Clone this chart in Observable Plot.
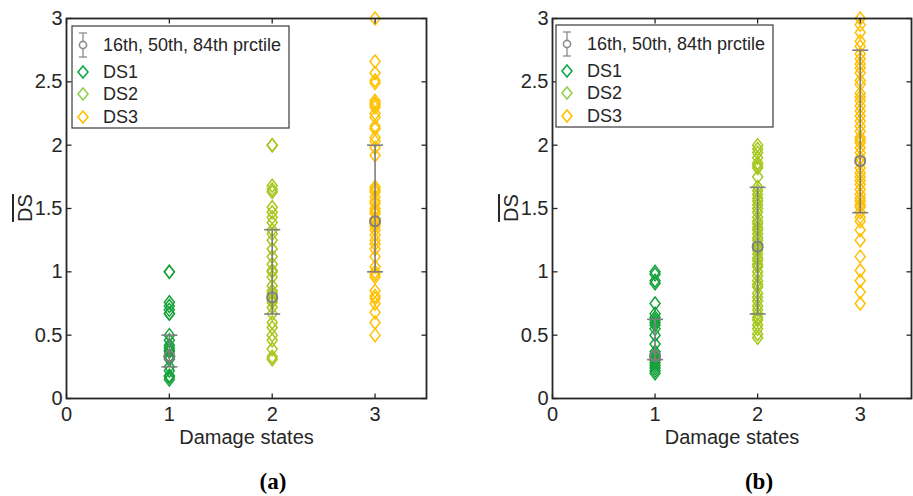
<!DOCTYPE html>
<html><head><meta charset="utf-8">
<script src="https://cdn.jsdelivr.net/npm/d3@7"></script>
<script src="https://cdn.jsdelivr.net/npm/@observablehq/plot@0.6"></script>
<style>
body{margin:0;background:#fff;}
#root{position:relative;width:913px;height:496px;overflow:hidden;font-family:"Liberation Sans",Arial,sans-serif;color:#262626;}
.panel{position:absolute;top:0;}
.ylab{position:absolute;font-size:20px;text-decoration:overline;transform:translate(-50%,-50%) rotate(-90deg);white-space:nowrap;line-height:1;}
.cap{position:absolute;font-family:"Liberation Serif","Times New Roman",serif;font-weight:bold;font-size:23px;line-height:24px;transform:translateX(-50%);color:#000;white-space:nowrap;}
.leg{position:absolute;}
</style></head><body><div id="root"></div>
<script>
// ---- data ----
const xTicks = [0, 1, 2, 3];
const yTicks = [0, 0.5, 1, 1.5, 2, 2.5, 3];
const seriesNames = ["DS1", "DS2", "DS3"];
const seriesX = [1, 2, 3];
const pointColors = ["#15a23a", "#a5c71b", "#ffc000"];
const legendColors = ["#0ea84a", "#92d050", "#ffc000"];
const statLabel = "16th, 50th, 84th prctile";
const xLabel = "Damage states";
const yLabel = "DS";
const panelLabels = ["(a)", "(b)"];

const aDS1 = [1.0, 1.0, 0.76, 0.73, 0.70, 0.67, 0.67, 0.5, 0.46, 0.42, 0.40, 0.38, 0.37, 0.33, 0.33, 0.31, 0.25, 0.22, 0.18, 0.17, 0.15];
const aDS2 = [2.0, 2.0, 1.68, 1.65, 1.63, 1.51, 1.47, 1.43, 1.39, 1.33, 1.30, 1.25, 1.18, 1.12, 1.06, 1.01, 1.0, 0.96, 0.89, 0.85, 0.83, 0.80, 0.78, 0.76, 0.72, 0.67, 0.60, 0.56, 0.50, 0.46, 0.39, 0.33, 0.31];
const aDS3 = [3.0, 2.66, 2.57, 2.51, 2.49, 2.35, 2.33, 2.32, 2.30, 2.25, 2.22, 2.15, 2.13, 2.06, 2.03, 1.98, 1.92, 1.67, 1.65, 1.63, 1.59, 1.56, 1.54, 1.50, 1.48, 1.46, 1.42, 1.40, 1.38, 1.36, 1.33, 1.29, 1.25, 1.22, 1.18, 1.12, 1.04, 1.0, 0.98, 0.96, 0.85, 0.81, 0.79, 0.75, 0.68, 0.60, 0.50];
const aP16 = [0.25, 0.667, 1.0];
const aP50 = [0.333, 0.8, 1.4];
const aP84 = [0.5, 1.333, 2.0];

const bDS1 = [1.0, 0.98, 0.93, 0.91, 0.75, 0.67, 0.64, 0.62, 0.60, 0.58, 0.55, 0.50, 0.43, 0.37, 0.35, 0.33, 0.32, 0.30, 0.28, 0.26, 0.24, 0.22, 0.20];
const bDS2 = [2.0, 1.97, 1.94, 1.90, 1.86, 1.84, 1.82, 1.75, 1.67, 1.64, 1.61, 1.58, 1.56, 1.53, 1.50, 1.47, 1.43, 1.40, 1.38, 1.35, 1.33, 1.30, 1.27, 1.25, 1.22, 1.19, 1.17, 1.14, 1.11, 1.09, 1.06, 1.04, 1.0, 0.97, 0.93, 0.90, 0.88, 0.83, 0.80, 0.77, 0.73, 0.70, 0.67, 0.64, 0.62, 0.58, 0.55, 0.51, 0.48];
const bDS3 = [3.0, 2.95, 2.89, 2.82, 2.78, 2.72, 2.68, 2.64, 2.61, 2.57, 2.51, 2.48, 2.41, 2.38, 2.35, 2.31, 2.27, 2.23, 2.19, 2.15, 2.11, 2.06, 2.04, 2.02, 1.98, 1.94, 1.90, 1.86, 1.82, 1.78, 1.75, 1.72, 1.69, 1.65, 1.61, 1.58, 1.56, 1.53, 1.51, 1.47, 1.43, 1.40, 1.33, 1.25, 1.12, 1.01, 0.93, 0.84, 0.75];
const bP16 = [0.307, 0.667, 1.467];
const bP50 = [0.333, 1.2, 1.875];
const bP84 = [0.625, 1.667, 2.75];

// ---- symbols ----
const diamond = {draw(c){c.moveTo(0,-6.5);c.lineTo(5,0);c.lineTo(0,6.5);c.lineTo(-5,0);c.closePath();}};
const capSym = {draw(c){c.moveTo(-8,0);c.lineTo(8,0);}};
const tickL = {draw(c){c.moveTo(0,0);c.lineTo(5,0);}};
const tickR = {draw(c){c.moveTo(0,0);c.lineTo(-5,0);}};
const tickB = {draw(c){c.moveTo(0,0);c.lineTo(0,-5);}};
const tickT = {draw(c){c.moveTo(0,0);c.lineTo(0,5);}};

const GRAY = "#7f7f7f", INK = "#262626";
const FONT = '"Liberation Sans", Arial, sans-serif';
const fmt = d => String(d);

function makePanel(series, p16, p50, p84, o){
  const points = [];
  series.forEach((vals, i) => vals.forEach(v => points.push({x: seriesX[i], y: v, s: seriesNames[i]})));
  const stats = seriesX.map((x, i) => ({x, p16: p16[i], p50: p50[i], p84: p84[i]}));
  return Plot.plot({
    width: o.width, height: 460,
    marginLeft: o.ml, marginRight: o.mr, marginTop: 18, marginBottom: 62,
    x: {domain: [0, 3.5]}, y: {domain: [0, 3]},
    color: {domain: seriesNames, range: pointColors},
    style: {fontFamily: FONT, fontSize: "20px", color: INK, background: "transparent"},
    marks: [
      Plot.dot(points, {x: "x", y: "y", stroke: "s", symbol: diamond, strokeWidth: 1.5}),
      Plot.ruleX(stats, {x: "x", y1: "p16", y2: "p84", stroke: GRAY, strokeWidth: 1.6}),
      Plot.dot(stats, {x: "x", y: "p16", symbol: capSym, stroke: GRAY, strokeWidth: 1.6}),
      Plot.dot(stats, {x: "x", y: "p84", symbol: capSym, stroke: GRAY, strokeWidth: 1.6}),
      Plot.dot(stats, {x: "x", y: "p50", r: 5, stroke: GRAY, strokeWidth: 2}),
      Plot.dot(yTicks, {x: 0, y: d => d, symbol: tickL, stroke: INK, strokeWidth: 1.3}),
      Plot.dot(yTicks, {x: 3.5, y: d => d, symbol: tickR, stroke: INK, strokeWidth: 1.3}),
      Plot.dot(xTicks, {x: d => d, y: 0, symbol: tickB, stroke: INK, strokeWidth: 1.3}),
      Plot.dot(xTicks, {x: d => d, y: 3, symbol: tickT, stroke: INK, strokeWidth: 1.3}),
      Plot.frame({stroke: INK, strokeWidth: 1.8}),
      Plot.axisX({ticks: xTicks, tickFormat: fmt, tickSize: 0, tickPadding: 8, label: null, fill: INK, fontSize: 20, fontFamily: FONT}),
      Plot.axisY({ticks: yTicks, tickFormat: fmt, tickSize: 0, tickPadding: 4, label: null, fill: INK, fontSize: 20, fontFamily: FONT}),
      Plot.text([xLabel], {frameAnchor: "bottom", dy: 45, fill: INK, fontSize: 20, fontFamily: FONT})
    ]
  });
}

function makeLegend(left, top){
  const ns = "http://www.w3.org/2000/svg";
  const w = 217, h = 102;
  const svg = document.createElementNS(ns, "svg");
  svg.setAttribute("width", w + 2); svg.setAttribute("height", h + 2);
  svg.setAttribute("class", "leg");
  svg.style.left = (left - 1) + "px"; svg.style.top = (top - 1) + "px";
  const add = (tag, attrs, text) => { const e = document.createElementNS(ns, tag); for (const k in attrs) e.setAttribute(k, attrs[k]); if (text) e.textContent = text; svg.appendChild(e); return e; };
  add("rect", {x: 1, y: 1, width: w, height: h, fill: "#fff", stroke: "#3a3a3a", "stroke-width": 1.2});
  const ix = 12, tx = 32;
  const rows = [20, 47, 69, 92];
  const lg = "#8c8c8c";
  add("line", {x1: ix, x2: ix, y1: rows[0] - 12, y2: rows[0] + 12, stroke: lg, "stroke-width": 1.3});
  add("line", {x1: ix - 4, x2: ix + 4, y1: rows[0] - 12, y2: rows[0] - 12, stroke: lg, "stroke-width": 1.3});
  add("line", {x1: ix - 4, x2: ix + 4, y1: rows[0] + 12, y2: rows[0] + 12, stroke: lg, "stroke-width": 1.3});
  add("circle", {cx: ix, cy: rows[0], r: 3.6, fill: "#fff", stroke: lg, "stroke-width": 1.6});
  add("text", {x: tx, y: rows[0], "dominant-baseline": "central", "font-size": 18, fill: INK}, statLabel);
  seriesNames.forEach((n, i) => {
    const y = rows[i + 1];
    add("path", {d: `M${ix},${y-6}L${ix+5},${y}L${ix},${y+6}L${ix-5},${y}Z`, fill: "none", stroke: legendColors[i], "stroke-width": 1.6});
    add("text", {x: tx, y, "dominant-baseline": "central", "font-size": 18, fill: INK}, n);
  });
  svg.style.fontFamily = FONT;
  return svg;
}

const root = document.getElementById("root");
const pa = makePanel([aDS1, aDS2, aDS3], aP16, aP50, aP84, {width: 456, ml: 66, mr: 30});
pa.classList.add("panel"); pa.style.left = "0px";
root.appendChild(pa);
const pb = makePanel([bDS1, bDS2, bDS3], bP16, bP50, bP84, {width: 457, ml: 96, mr: 2});
pb.classList.add("panel"); pb.style.left = "456px";
root.appendChild(pb);

root.appendChild(makeLegend(72, 26));
root.appendChild(makeLegend(556, 25));

[[25, 208], [511, 208]].forEach(([x, y]) => {
  const d = document.createElement("div");
  d.className = "ylab"; d.textContent = yLabel;
  d.style.left = x + "px"; d.style.top = y + "px";
  root.appendChild(d);
});
[[273, panelLabels[0]], [759, panelLabels[1]]].forEach(([x, t]) => {
  const d = document.createElement("div");
  d.className = "cap"; d.textContent = t;
  d.style.left = x + "px"; d.style.top = "470px";
  root.appendChild(d);
});
</script></body></html>
